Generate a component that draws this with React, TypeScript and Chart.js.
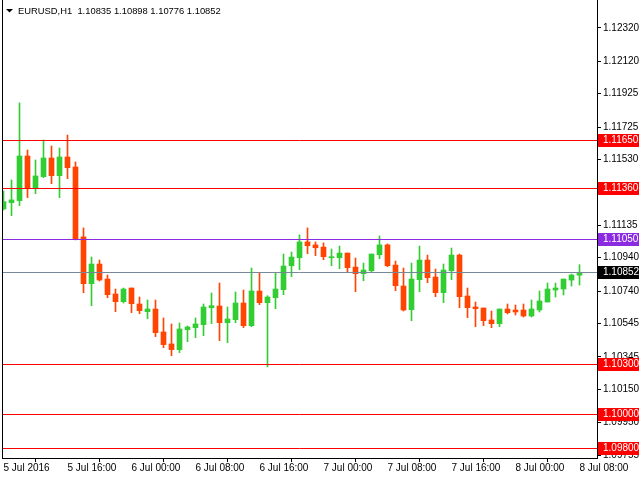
import React, { useEffect, useRef } from "react";
import { Chart, registerables } from "chart.js";

Chart.register(...registerables);

const titleText = "EURUSD,H1  1.10835 1.10898 1.10776 1.10852";

const opens = [
  1.11233, 1.11271, 1.11283, 1.11551, 1.11359, 1.11427, 1.11539, 1.11433, 1.11545, 1.11485,
  1.11065, 1.10784, 1.10902, 1.10812, 1.10722, 1.10676, 1.10758, 1.10662, 1.10616, 1.10632,
  1.10494, 1.10422, 1.10388, 1.10508, 1.10520, 1.10538, 1.10640, 1.10650, 1.10550, 1.10568,
  1.10668, 1.10532, 1.10740, 1.10670, 1.10700, 1.10748, 1.10892, 1.10940, 1.11035, 1.11017,
  1.11004, 1.10940, 1.10940, 1.10968, 1.10884, 1.10844, 1.10862, 1.10958, 1.11017, 1.10896,
  1.10770, 1.10628, 1.10808, 1.10926, 1.10824, 1.10730, 1.10862, 1.10956, 1.10710, 1.10644,
  1.10638, 1.10566, 1.10544, 1.10632, 1.10626, 1.10626, 1.10590, 1.10626, 1.10674, 1.10746,
  1.10752, 1.10806, 1.10835,
];
const highs = [
  1.11341, 1.11407, 1.11870, 1.11587, 1.11527, 1.11647, 1.11611, 1.11599, 1.11677, 1.11515,
  1.11119, 1.10944, 1.10926, 1.10836, 1.10752, 1.10758, 1.10758, 1.10704, 1.10686, 1.10686,
  1.10578, 1.10542, 1.10548, 1.10530, 1.10578, 1.10662, 1.10728, 1.10788, 1.10644, 1.10734,
  1.10746, 1.10878, 1.10848, 1.10712, 1.10848, 1.10962, 1.10974, 1.11077, 1.11119, 1.11035,
  1.11029, 1.10992, 1.11010, 1.10968, 1.10938, 1.10908, 1.10962, 1.11071, 1.11023, 1.10920,
  1.10878, 1.10908, 1.11010, 1.10956, 1.10872, 1.10902, 1.10998, 1.10962, 1.10758, 1.10674,
  1.10638, 1.10620, 1.10632, 1.10662, 1.10656, 1.10662, 1.10686, 1.10740, 1.10788, 1.10788,
  1.10812, 1.10842, 1.10898,
];
const lows = [
  1.11227, 1.11193, 1.11253, 1.11301, 1.11325, 1.11421, 1.11385, 1.11301, 1.11415, 1.11047,
  1.10730, 1.10652, 1.10800, 1.10700, 1.10616, 1.10668, 1.10610, 1.10604, 1.10574, 1.10466,
  1.10400, 1.10352, 1.10370, 1.10436, 1.10460, 1.10472, 1.10544, 1.10442, 1.10430, 1.10550,
  1.10520, 1.10526, 1.10658, 1.10285, 1.10634, 1.10718, 1.10826, 1.10868, 1.10964, 1.10952,
  1.10928, 1.10892, 1.10874, 1.10850, 1.10736, 1.10802, 1.10856, 1.10934, 1.10886, 1.10742,
  1.10620, 1.10562, 1.10736, 1.10790, 1.10706, 1.10670, 1.10808, 1.10640, 1.10580, 1.10526,
  1.10532, 1.10520, 1.10526, 1.10602, 1.10596, 1.10584, 1.10584, 1.10614, 1.10674, 1.10704,
  1.10716, 1.10770, 1.10776,
];
const closes = [
  1.11277, 1.11287, 1.11551, 1.11359, 1.11431, 1.11539, 1.11433, 1.11545, 1.11481, 1.11053,
  1.10784, 1.10902, 1.10806, 1.10718, 1.10676, 1.10752, 1.10664, 1.10622, 1.10632, 1.10490,
  1.10418, 1.10388, 1.10512, 1.10524, 1.10542, 1.10644, 1.10652, 1.10550, 1.10572, 1.10668,
  1.10532, 1.10740, 1.10670, 1.10704, 1.10752, 1.10890, 1.10944, 1.11035, 1.11012, 1.11000,
  1.10946, 1.10944, 1.10968, 1.10880, 1.10844, 1.10866, 1.10962, 1.11017, 1.10892, 1.10772,
  1.10626, 1.10812, 1.10926, 1.10820, 1.10730, 1.10866, 1.10956, 1.10706, 1.10640, 1.10634,
  1.10562, 1.10544, 1.10632, 1.10610, 1.10614, 1.10590, 1.10632, 1.10680, 1.10752, 1.10758,
  1.10812, 1.10836, 1.10852,
];

const xTickBars = [0, 8, 16, 24, 32, 40, 48, 56, 64, 72];
const xTickLabels = [
  "5 Jul 2016", "5 Jul 16:00", "6 Jul 00:00", "6 Jul 08:00", "6 Jul 16:00",
  "7 Jul 00:00", "7 Jul 08:00", "7 Jul 16:00", "8 Jul 00:00", "8 Jul 08:00",
];
const yTickValues = [
  1.1232, 1.1212, 1.11925, 1.11725, 1.1153, 1.11335, 1.11135, 1.1094, 1.1074,
  1.10545, 1.10345, 1.1015, 1.0995, 1.09755,
];
const levelValues = [1.1165, 1.1136, 1.1105, 1.103, 1.1, 1.098];
const levelKinds = ["red", "red", "purple", "red", "red", "red"];
const bidPrice = 1.10852;

const FONT = "Liberation Sans, Arial, sans-serif";
const UP = "#32cd32";
const DOWN = "#ff4500";
const KIND_COLORS: Record<string, string> = { red: "#ff0000", purple: "#8a2be2" };

const overlayPlugin = {
  id: "overlay",
  afterDatasetsDraw(chart: any) {
    const { ctx, chartArea } = chart;
    const y = chart.scales.y;
    ctx.save();
    ctx.lineWidth = 1;
    const lines = levelValues.map((v, i) => ({ v, color: KIND_COLORS[levelKinds[i]] }));
    lines.push({ v: bidPrice, color: "#778899" });
    for (const l of lines) {
      const py = Math.round(y.getPixelForValue(l.v)) + 0.5;
      ctx.strokeStyle = l.color;
      ctx.beginPath();
      ctx.moveTo(chartArea.left, py);
      ctx.lineTo(chartArea.right, py);
      ctx.stroke();
    }
    ctx.strokeStyle = "#000";
    ctx.beginPath();
    ctx.moveTo(chartArea.left + 0.5, 0);
    ctx.lineTo(chartArea.left + 0.5, chartArea.bottom);
    ctx.stroke();
    ctx.restore();
  },
  afterDraw(chart: any) {
    const { ctx, chartArea } = chart;
    const y = chart.scales.y;
    ctx.save();
    ctx.font = `10px ${FONT}`;
    ctx.textBaseline = "middle";
    ctx.textAlign = "left";
    const boxes = levelValues.map((v, i) => ({ v, color: KIND_COLORS[levelKinds[i]] }));
    boxes.push({ v: bidPrice, color: "#000000" });
    for (const b of boxes) {
      const py = Math.round(y.getPixelForValue(b.v));
      ctx.fillStyle = b.color;
      ctx.fillRect(chartArea.right + 1, py - 6, 41, 13);
      ctx.fillStyle = "#fff";
      ctx.fillText(b.v.toFixed(5), chartArea.right + 6, py + 0.5);
    }
    ctx.fillStyle = "#000";
    ctx.beginPath();
    ctx.moveTo(6, 9);
    ctx.lineTo(13, 9);
    ctx.lineTo(9.5, 12.5);
    ctx.closePath();
    ctx.fill();
    ctx.font = `9.4px ${FONT}`;
    ctx.fillText(titleText, 18, 11);
    ctx.restore();
  },
};

export default function App() {
  const ref = useRef<HTMLCanvasElement | null>(null);
  useEffect(() => {
    if (!ref.current) return;
    const n = opens.length;
    const idx = Array.from({ length: n }, (_, i) => i);
    const colors = idx.map((i) => (closes[i] >= opens[i] ? UP : DOWN));
    const chart = new Chart(ref.current, {
      type: "bar",
      data: {
        datasets: [
          {
            label: "wick",
            data: idx.map((i) => ({ x: i, y: [lows[i], highs[i]] })) as any,
            backgroundColor: colors,
            barThickness: 1,
            grouped: false,
            borderWidth: 0,
            minBarLength: 1,
            order: 2,
          },
          {
            label: "body",
            data: idx.map((i) => ({ x: i, y: [opens[i], closes[i]] })) as any,
            backgroundColor: colors,
            barThickness: 5,
            grouped: false,
            borderWidth: 0,
            minBarLength: 1,
            order: 1,
          },
        ],
      },
      options: {
        animation: false,
        responsive: false,
        events: [],
        layout: { autoPadding: false, padding: { left: 2, top: 0, right: 0, bottom: 0 } },
        plugins: { legend: { display: false }, tooltip: { enabled: false } },
        scales: {
          x: {
            type: "linear",
            offset: false,
            min: -0.1875,
            max: 74.1875,
            afterBuildTicks: (s: any) => {
              s.ticks = xTickBars.map((v) => ({ value: v }));
            },
            afterFit: (s: any) => {
              s.height = 22;
              s.paddingLeft = 0;
              s.paddingRight = 0;
              s.paddingTop = 0;
              s.paddingBottom = 0;
            },
            ticks: {
              autoSkip: false,
              maxRotation: 0,
              minRotation: 0,
              align: "start",
              padding: 0,
              color: "#000",
              font: { family: FONT, size: 10 },
              callback: (_v: any, i: number) => xTickLabels[i],
            },
            grid: { display: true, drawOnChartArea: false, drawTicks: true, tickLength: 4, color: "#000" },
            border: { display: true, color: "#000" },
          },
          y: {
            type: "linear",
            position: "right",
            min: 1.09737,
            max: 1.12488,
            afterBuildTicks: (s: any) => {
              s.ticks = yTickValues.map((v) => ({ value: v }));
            },
            afterFit: (s: any) => {
              s.width = 43;
              s.paddingLeft = 0;
              s.paddingRight = 0;
              s.paddingTop = 0;
              s.paddingBottom = 0;
            },
            ticks: {
              autoSkip: false,
              padding: 2,
              color: "#000",
              font: { family: FONT, size: 10 },
              callback: (v: any) => Number(v).toFixed(5),
            },
            grid: { display: true, drawOnChartArea: false, drawTicks: true, tickLength: 4, color: "#000" },
            border: { display: true, color: "#000" },
          },
        },
      },
      plugins: [overlayPlugin],
    });
    return () => chart.destroy();
  }, []);
  return (
    <div style={{ position: "fixed", left: 0, top: 0, width: 640, height: 480, background: "#fff" }}>
      <canvas ref={ref} width={640} height={480} style={{ display: "block" }} />
    </div>
  );
}
